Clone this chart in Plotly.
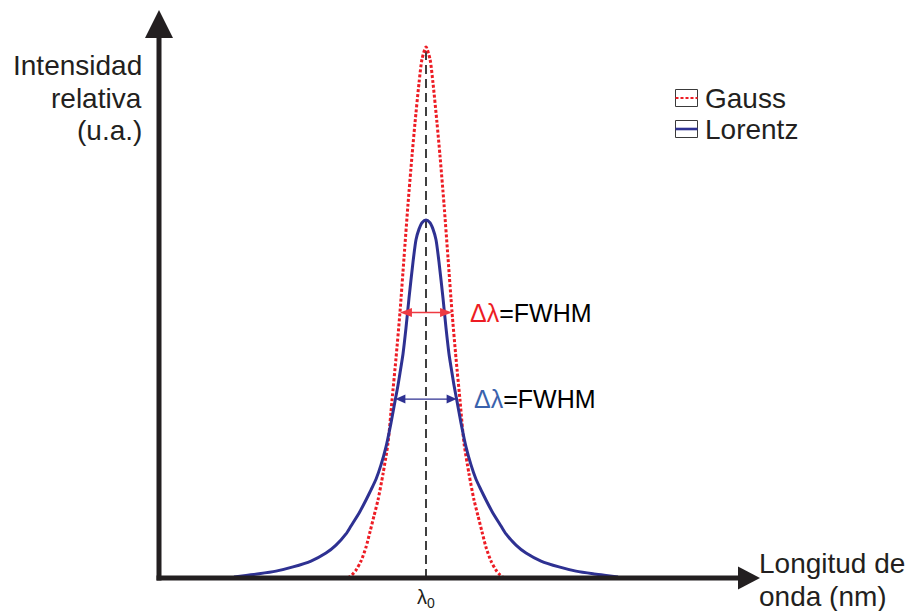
import numpy as np
import plotly.graph_objects as go

# Line profiles (x: offset from the centre wavelength, y: relative intensity)
LAMBDA0 = 0.0
GAUSS_X = [-7.8, -7.4, -7.0, -6.5, -6.0, -5.6, -5.2, -4.8, -4.3, -3.8, -3.4, -3.0, -2.6,
           -2.2, -1.8, -1.4, -1.1, -0.7, -0.4, 0.0, 0.4, 0.7, 1.1, 1.4, 1.8, 2.2, 2.6,
           3.0, 3.4, 3.8, 4.3, 4.8, 5.2, 5.6, 6.0, 6.5, 7.0, 7.4, 7.8]
GAUSS_Y = [0.000, 0.006, 0.015, 0.032, 0.058, 0.087, 0.117, 0.147, 0.196, 0.254, 0.335,
           0.414, 0.501, 0.603, 0.704, 0.795, 0.857, 0.932, 0.977, 1.000, 0.977, 0.932,
           0.857, 0.795, 0.704, 0.603, 0.501, 0.414, 0.335, 0.254, 0.196, 0.147, 0.117,
           0.087, 0.058, 0.032, 0.015, 0.006, 0.000]
LORENTZ_X = [-19.2, -18.0, -16.7, -15.0, -13.3, -11.5, -10.0, -9.0, -8.0, -7.5, -6.7, -6.0,
             -5.5, -5.0, -4.5, -4.0, -3.5, -3.1, -2.8, -2.6, -2.3, -2.0, -1.7, -1.3, -1.0,
             -0.7, -0.4, 0.0, 0.4, 0.7, 1.0, 1.3, 1.7, 2.0, 2.3, 2.6, 2.8, 3.1, 3.5, 4.0,
             4.5, 5.0, 5.5, 6.0, 6.7, 7.5, 8.0, 9.0, 10.0, 11.5, 13.3, 15.0, 16.7, 18.0, 19.2]
LORENTZ_Y = [0.002, 0.005, 0.008, 0.013, 0.021, 0.032, 0.047, 0.062, 0.083, 0.098, 0.122,
             0.147, 0.166, 0.186, 0.213, 0.247, 0.292, 0.333, 0.363, 0.386, 0.422, 0.471,
             0.527, 0.595, 0.637, 0.657, 0.669, 0.674, 0.669, 0.657, 0.637, 0.595, 0.527,
             0.471, 0.422, 0.386, 0.363, 0.333, 0.292, 0.247, 0.213, 0.186, 0.166, 0.147,
             0.122, 0.098, 0.083, 0.062, 0.047, 0.032, 0.021, 0.013, 0.008, 0.005, 0.002]
SERIES_NAMES = ["Gauss", "Lorentz"]

W, H = 912, 611
X_RANGE = [-42.6, 48.6]
Y_RANGE = [-0.0621, 1.0885]
XS = (X_RANGE[1] - X_RANGE[0]) / W   # data units per pixel
YS = (Y_RANGE[1] - Y_RANGE[0]) / H

INK = "#231f20"
RED = "#ed1c24"
BLUE = "#2e3192"
FONT = "Liberation Sans, Arial, sans-serif"


def fwhm_edges(xs, ys):
    xs, ys = np.asarray(xs), np.asarray(ys)
    i = int(np.argmax(ys))
    half = ys[i] / 2
    left = np.interp(half, ys[:i + 1], xs[:i + 1])
    right = np.interp(half, ys[i:][::-1], xs[i:][::-1])
    return left, right, half


fig = go.Figure()
fig.add_trace(go.Scatter(x=GAUSS_X, y=GAUSS_Y, mode="lines", name=SERIES_NAMES[0],
                         line=dict(color=RED, width=3, dash="3px,2px", shape="spline", smoothing=0.7)))
fig.add_trace(go.Scatter(x=LORENTZ_X, y=LORENTZ_Y, mode="lines", name=SERIES_NAMES[1],
                         line=dict(color=BLUE, width=3, shape="spline", smoothing=0.6)))

shapes = []
# centre wavelength marker
shapes.append(dict(type="line", xref="x", yref="y", x0=LAMBDA0, x1=LAMBDA0, y0=0,
                   y1=max(GAUSS_Y), layer="below",
                   line=dict(color="#000000", width=1.5, dash="9px,5px")))

# axes with arrowheads
ax_x = -26.7
shapes.append(dict(type="line", xref="x", yref="y", x0=ax_x, x1=ax_x, y0=-2.5 * YS,
                   y1=1.017, line=dict(color=INK, width=5), layer="above"))
shapes.append(dict(type="path", xref="x", yref="y", layer="above",
                   path=f"M {ax_x - 14 * XS},{1.017} L {ax_x + 14 * XS},{1.017} L {ax_x},{1.0697} Z",
                   fillcolor=INK, line=dict(color=INK, width=0)))
shapes.append(dict(type="line", xref="x", yref="y", x0=ax_x - 2.5 * XS, x1=31.2, y0=0, y1=0,
                   line=dict(color=INK, width=5), layer="above"))
shapes.append(dict(type="path", xref="x", yref="y", layer="above",
                   path=f"M 31.2,{-11.5 * YS} L 31.2,{11.5 * YS} L 33.4,0 Z",
                   fillcolor=INK, line=dict(color=INK, width=0)))


def double_arrow(x0, x1, y, color, width, head_len, head_half):
    out = [dict(type="line", xref="x", yref="y", x0=x0 + head_len * XS * 0.5,
                x1=x1 - head_len * XS * 0.5, y0=y, y1=y, layer="above",
                line=dict(color=color, width=width))]
    out.append(dict(type="path", xref="x", yref="y", layer="above",
                    path=f"M {x0},{y} L {x0 + head_len * XS},{y + head_half * YS} "
                         f"L {x0 + head_len * XS},{y - head_half * YS} Z",
                    fillcolor=color, line=dict(color=color, width=0)))
    out.append(dict(type="path", xref="x", yref="y", layer="above",
                    path=f"M {x1},{y} L {x1 - head_len * XS},{y + head_half * YS} "
                         f"L {x1 - head_len * XS},{y - head_half * YS} Z",
                    fillcolor=color, line=dict(color=color, width=0)))
    return out


gl, gr, gh = fwhm_edges(GAUSS_X, GAUSS_Y)
ll, lr, lh = fwhm_edges(LORENTZ_X, LORENTZ_Y)
shapes += double_arrow(gl, gr, gh, "#ee3a42", 1.6, 12, 4.5)
shapes += double_arrow(ll, lr, lh, BLUE, 1.3, 10, 4.5)

annotations = []
annotations.append(dict(x=gr + 16 * XS, y=gh, xref="x", yref="y", xanchor="left", yanchor="middle",
                        showarrow=False, font=dict(family=FONT, size=25, color="#000000"),
                        text=f"<span style='color:{RED}'>Δλ</span>=FWHM"))
annotations.append(dict(x=lr + 15 * XS, y=lh, xref="x", yref="y", xanchor="left", yanchor="middle",
                        showarrow=False, font=dict(family=FONT, size=25, color="#000000"),
                        text="<span style='color:#3a62ad'>Δλ</span>=FWHM"))
annotations.append(dict(x=LAMBDA0, y=-20 * YS, xref="x", yref="y", xanchor="center",
                        yanchor="middle", showarrow=False,
                        font=dict(family=FONT, size=20, color=INK), text="λ<sub>0</sub>"))


def px(xp, yp):
    return xp / W, 1 - yp / H


# axis titles
for txt, yp in [("Intensidad", 65), ("relativa", 98), ("(u.a.)", 131)]:
    xx, yy = px(144, yp)
    annotations.append(dict(x=xx, y=yy, xref="paper", yref="paper", xanchor="right",
                            yanchor="middle", showarrow=False, text=txt,
                            font=dict(family=FONT, size=28, color=INK)))
for txt, yp in [("Longitud de", 563), ("onda (nm)", 596)]:
    xx, yy = px(757, yp)
    annotations.append(dict(x=xx, y=yy, xref="paper", yref="paper", xanchor="left",
                            yanchor="middle", showarrow=False, text=txt,
                            font=dict(family=FONT, size=28, color=INK)))

# legend drawn as boxed swatches
legend_rows = [(SERIES_NAMES[0], 98, RED, "3px,2px", 2.2), (SERIES_NAMES[1], 129, BLUE, "solid", 2.6)]
for name, yc, color, dash, lw in legend_rows:
    x0, y0 = px(675.5, yc - 8.5)
    x1, y1 = px(697.5, yc + 8.5)
    shapes.append(dict(type="rect", xref="paper", yref="paper", x0=x0, x1=x1, y0=y1, y1=y0,
                       line=dict(color="#3a3a3a", width=1), fillcolor="rgba(0,0,0,0)"))
    _, ym = px(0, yc)
    shapes.append(dict(type="line", xref="paper", yref="paper", x0=x0, x1=x1, y0=ym, y1=ym,
                       line=dict(color=color, width=lw, dash=dash)))
    tx, ty = px(703, yc)
    annotations.append(dict(x=tx, y=ty, xref="paper", yref="paper", xanchor="left",
                            yanchor="middle", showarrow=False, text=name,
                            font=dict(family=FONT, size=28, color=INK)))

fig.update_layout(
    width=W, height=H,
    margin=dict(l=0, r=0, t=0, b=0),
    paper_bgcolor="white", plot_bgcolor="white",
    showlegend=False,
    xaxis=dict(range=X_RANGE, visible=False, fixedrange=True),
    yaxis=dict(range=Y_RANGE, visible=False, fixedrange=True),
    shapes=shapes,
    annotations=annotations,
)

fig.write_html("out.html")
